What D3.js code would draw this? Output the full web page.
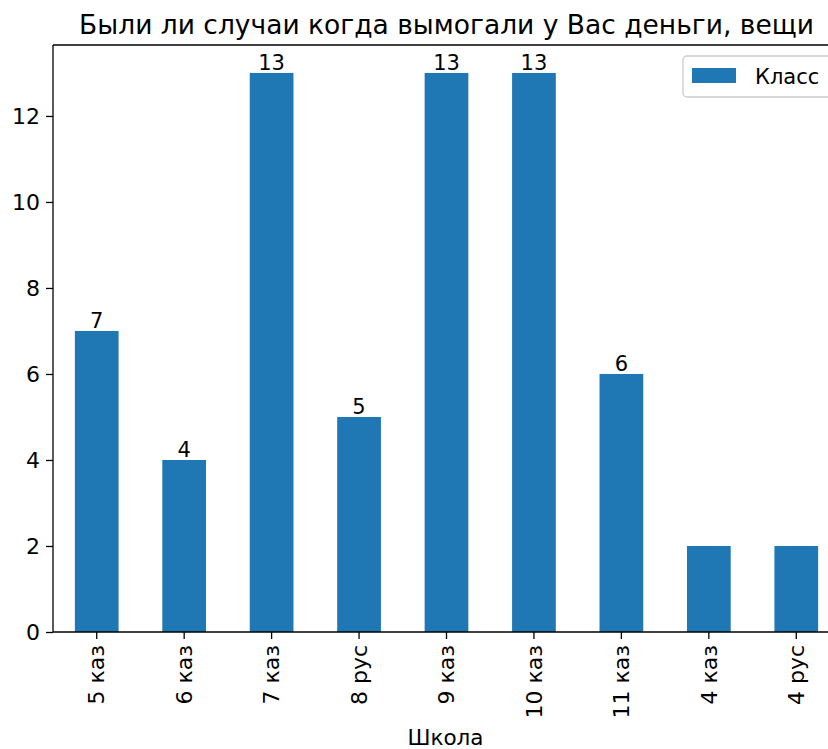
<!DOCTYPE html>
<html lang="ru">
<head>
<meta charset="UTF-8">
<title>chart</title>
<script src="https://cdn.jsdelivr.net/npm/d3@7"></script>
<style>
  body { margin: 0; background: #fff; }
  svg { font-family: "DejaVu Sans", sans-serif; display: block; }
  .axis path, .axis line { stroke: #000; stroke-width: 1.3px; }
</style>
</head>
<body>
<div id="chart"></div>
<script>
  // данные
  let categories = ["5 каз", "6 каз", "7 каз", "8 рус", "9 каз", "10 каз", "11 каз", "4 каз", "4 рус"];
  let values = [7, 4, 13, 5, 13, 13, 6, 2, 2];
  let barLabels = ["7", "4", "13", "5", "13", "13", "6", "", ""];
  let yTicks = [0, 2, 4, 6, 8, 10, 12];
  let seriesName = "Класс";
  let titleText = "Были ли случаи когда вымогали у Вас деньги, вещи";
  let xTitle = "Школа";

  let W = 828, H = 749;
  let padding = { top: 45, left: 53, bottom: 117, right: -12 };
  let width = W - padding.left - padding.right;
  let height = H - padding.top - padding.bottom;

  let svg = d3.select("#chart").append("svg")
    .attr("width", W).attr("height", H);

  let focus = svg.append("g")
    .attr("transform", "translate(" + padding.left + "," + padding.top + ")");

  let x = d3.scaleBand().domain(categories).range([0, width]).paddingInner(0.5).paddingOuter(0.25);
  let y = d3.scaleLinear().domain([0, d3.max(values) * 1.05]).range([height, 0]);

  // столбцы
  focus.selectAll(".bar").data(values).enter().append("rect")
    .attr("class", "bar")
    .attr("x", (d, i) => x(categories[i]))
    .attr("width", x.bandwidth())
    .attr("y", d => y(d))
    .attr("height", d => height - y(d))
    .attr("fill", "#1f77b4");

  // подписи значений
  focus.selectAll(".lbl").data(values).enter().append("text")
    .attr("x", (d, i) => x(categories[i]) + x.bandwidth() / 2)
    .attr("y", d => y(d) - 3)
    .attr("text-anchor", "middle")
    .style("font-size", "21px")
    .text((d, i) => barLabels[i]);

  // оси
  let yAxis = d3.axisLeft(y).tickValues(yTicks).tickSize(7).tickPadding(6);
  focus.append("g").attr("class", "axis").call(yAxis)
    .attr("font-size", 22).attr("font-family", null)
    .call(g => g.select(".domain").attr("d", "M0," + height + "V0"));

  let xAxis = d3.axisBottom(x).tickSize(7).tickPadding(6);
  let gx = focus.append("g").attr("class", "axis")
    .attr("transform", "translate(0," + height + ")")
    .call(xAxis)
    .attr("font-size", 22).attr("font-family", null);
  gx.select(".domain").attr("d", "M0,0H" + width);
  gx.selectAll(".tick text")
    .attr("transform", "rotate(-90)")
    .attr("text-anchor", "end")
    .attr("x", -13).attr("y", 0).attr("dy", "0.35em");

  // верхняя рамка
  focus.append("line").attr("x1", 0).attr("x2", width).attr("y1", 0).attr("y2", 0)
    .attr("stroke", "#000").attr("stroke-width", 1.3);

  // заголовки
  svg.append("text").attr("x", padding.left + width / 2).attr("y", 34)
    .attr("text-anchor", "middle").style("font-size", "26.5px").text(titleText);
  svg.append("text").attr("x", padding.left + width / 2 - 1).attr("y", 745)
    .attr("text-anchor", "middle").style("font-size", "21.5px").text(xTitle);

  // легенда
  let lg = focus.append("g").attr("transform", "translate(" + (width - 157) + ",11)");
  lg.append("rect").attr("width", 160).attr("height", 41).attr("rx", 4)
    .attr("fill", "#fff").attr("stroke", "#ccc").attr("stroke-width", 1.3);
  lg.append("rect").attr("x", 9).attr("y", 12).attr("width", 44).attr("height", 15).attr("fill", "#1f77b4");
  lg.append("text").attr("x", 72).attr("y", 28).style("font-size", "21px").text(seriesName);
</script>
</body>
</html>
